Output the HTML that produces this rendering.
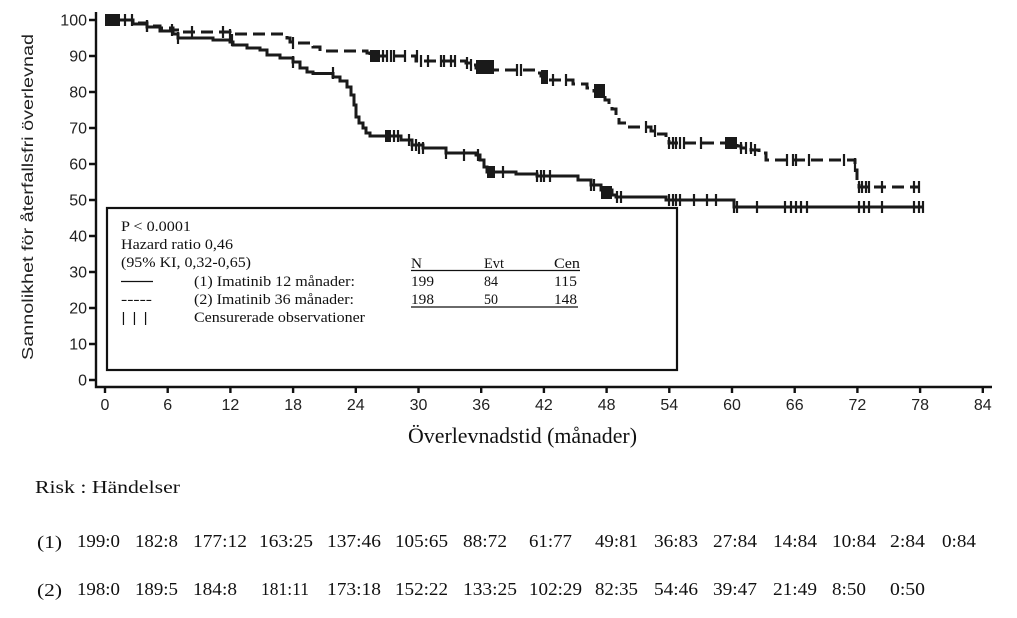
<!DOCTYPE html>
<html><head><meta charset="utf-8"><style>
html,body{margin:0;padding:0;background:#fff;}
svg{display:block;}
.ax{font-family:"Liberation Sans",Arial,sans-serif;font-size:16px;fill:#222;}
.sr{font-family:"Liberation Serif","Times New Roman",serif;fill:#111;}
</style></head><body>
<svg width="1017" height="618" viewBox="0 0 1017 618" xmlns="http://www.w3.org/2000/svg">
<rect width="1017" height="618" fill="#fff"/>
<!-- axes -->
<g stroke="#111" stroke-width="2.4" fill="none">
<path d="M96,12 V387 H992"/>
<path d="M89,20 H96 M89,56 H96 M89,92 H96 M89,128 H96 M89,164 H96 M89,200 H96 M89,236 H96 M89,272 H96 M89,308 H96 M89,344 H96 M89,380 H96"/>
<path d="M105,387 V393 M167.7,387 V393 M230.4,387 V393 M293.1,387 V393 M355.8,387 V393 M418.5,387 V393 M481.2,387 V393 M543.9,387 V393 M606.6,387 V393 M669.3,387 V393 M732,387 V393 M794.7,387 V393 M857.4,387 V393 M920.1,387 V393 M982.8,387 V393"/>
</g>
<g class="ax" text-anchor="end">
<text x="87" y="25.5">100</text><text x="87" y="61.5">90</text><text x="87" y="97.5">80</text><text x="87" y="133.5">70</text><text x="87" y="169.5">60</text><text x="87" y="205.5">50</text><text x="87" y="241.5">40</text><text x="87" y="277.5">30</text><text x="87" y="313.5">20</text><text x="87" y="349.5">10</text><text x="87" y="385.5">0</text>
</g>
<g class="ax" text-anchor="middle">
<text x="105" y="410">0</text><text x="167.7" y="410">6</text><text x="230.4" y="410">12</text><text x="293.1" y="410">18</text><text x="355.8" y="410">24</text><text x="418.5" y="410">30</text><text x="481.2" y="410">36</text><text x="543.9" y="410">42</text><text x="606.6" y="410">48</text><text x="669.3" y="410">54</text><text x="732" y="410">60</text><text x="794.7" y="410">66</text><text x="857.4" y="410">72</text><text x="920.1" y="410">78</text><text x="982.8" y="410">84</text>
</g>
<text class="ax" transform="translate(33,197) rotate(-90)" text-anchor="middle" font-size="18" textLength="326" lengthAdjust="spacingAndGlyphs">Sannolikhet för återfallsfri överlevnad</text>
<text class="sr" x="408" y="443" font-size="22" textLength="229" lengthAdjust="spacingAndGlyphs">Överlevnadstid (månader)</text>

<!-- curves -->
<g fill="none" stroke="#1a1a1a" stroke-width="3" stroke-linejoin="miter">
<path d="M105,20 H133 V24 H147 V27 H160 V31 H173 V34 H178 V38 H213 V40 H230 V42 H233 V45 H247 V48 H260 V50 H267 V55 H280 V58 H293 V62 H300 V68 H307 V72 H313 V73.5 H333 V77 H340 V81 H347 V87 H351 V95 H354 V105 H356 V117 H359 V123 H363 V128 H366 V133 H370 V136 H401 V140 H412 V145 H423 V148 H446 V153 H476 V155 H480 V160 H484 V167 H487 V172 H516 V174 H537 V176 H578 V180 H591 V185 H601 V190 H612 V195 H616 V197 H666 V200 H734 V207 H923"/>
<path stroke-dasharray="12,6" d="M105,20 H133 V23 H147 V26 H160 V28 H173 V30 H180 V32 H230 V34 H287 V38 H290 V42 H293 V43 H313 V47 H320 V51 H367 V53 H370 V56 H416 V61 H466 V63 H470 V65 H476 V68 H480 V70 H537 V73 H541 V76 H544 V80 H573 V84 H587 V88 H594 V91 H601 V96 H605 V100 H609 V104 H612 V109 H616 V117 H619 V123 H626 V127 H651 V131 H655 V134 H666 V138 H669 V143 H737 V146 H741 V148 H751 V150 H759 V153 H766 V160 H855 V170 H857 V180 H859 V187 H920"/>
</g>
<!-- censor blocks -->
<g fill="#1a1a1a">
<rect x="105" y="14" width="15" height="12"/>
<rect x="370" y="50" width="10" height="12"/>
<rect x="385" y="130" width="6" height="12"/>
<rect x="476" y="60" width="18" height="14"/>
<rect x="487" y="166" width="8" height="12"/>
<rect x="541" y="70" width="7" height="14"/>
<rect x="594" y="84" width="11" height="14"/>
<rect x="601" y="186" width="11" height="13"/>
<rect x="725" y="137" width="12" height="12"/>
</g>
<!-- censor ticks -->
<g stroke="#1a1a1a" stroke-width="2.2" fill="none">
<path d="M125,14 V26 M132,14 V26 M147,20 V32 M178,32 V44 M232,34 V46 M293,56 V68 M333,67 V79 M394,130 V142 M398,130 V142 M409,134 V146 M412,139 V151 M416,139 V151 M419,142 V154 M423,142 V154 M446,147 V159 M464,149 V161 M478,149 V161 M503,166 V178 M537,170 V182 M541,170 V182 M544,170 V182 M550,170 V182 M591,179 V191 M594,179 V191 M617,191 V203 M621,191 V203 M669,194 V206 M673,194 V206 M676,194 V206 M680,194 V206 M694,194 V206 M707,194 V206 M716,194 V206 M734,201 V213 M737,201 V213 M757,201 V213 M785,201 V213 M791,201 V213 M796,201 V213 M801,201 V213 M807,201 V213 M859,201 V213 M864,201 V213 M869,201 V213 M882,201 V213 M914,201 V213 M919,201 V213 M923,201 V213"/>
<path d="M147,20 V32 M172,24 V36 M192,26 V38 M223,26 V38 M230,29 V41 M293,37 V49 M383,50 V62 M387,50 V62 M391,50 V62 M394,50 V62 M405,50 V62 M417,50 V62 M421,55 V67 M428,55 V67 M441,55 V67 M444,55 V67 M451,55 V67 M455,55 V67 M467,57 V69 M471,59 V71 M517,64 V76 M521,64 V76 M553,74 V86 M566,74 V86 M646,121 V133 M655,125 V137 M669,137 V149 M673,137 V149 M676,137 V149 M680,137 V149 M684,137 V149 M701,137 V149 M741,142 V154 M746,142 V154 M751,142 V154 M755,144 V156 M787,154 V166 M793,154 V166 M796,154 V166 M809,154 V166 M844,154 V166 M855,158 V172 M859,181 V193 M862,181 V193 M866,181 V193 M869,181 V193 M882,181 V193 M914,181 V193 M919,181 V193"/>
</g>

<!-- legend box -->
<rect x="107" y="208" width="570" height="162" fill="#fff" stroke="#111" stroke-width="2.2"/>
<g class="sr" font-size="15">
<text x="121" y="231" textLength="70" lengthAdjust="spacingAndGlyphs">P &lt; 0.0001</text>
<text x="121" y="249" textLength="112" lengthAdjust="spacingAndGlyphs">Hazard ratio 0,46</text>
<text x="121" y="267" textLength="130" lengthAdjust="spacingAndGlyphs">(95% KI, 0,32-0,65)</text>
<text x="194" y="286" textLength="161" lengthAdjust="spacingAndGlyphs">(1) Imatinib 12 månader:</text>
<text x="194" y="304" textLength="160" lengthAdjust="spacingAndGlyphs">(2) Imatinib 36 månader:</text>
<text x="194" y="322" textLength="171" lengthAdjust="spacingAndGlyphs">Censurerade observationer</text>
<text x="121" y="304" textLength="31" lengthAdjust="spacingAndGlyphs">-----</text>
<text x="121" y="322" textLength="27" lengthAdjust="spacingAndGlyphs">|  |  |</text>
<text x="411" y="268" textLength="11" lengthAdjust="spacingAndGlyphs">N</text>
<text x="484" y="268" textLength="20" lengthAdjust="spacingAndGlyphs">Evt</text>
<text x="554" y="268" textLength="26" lengthAdjust="spacingAndGlyphs">Cen</text>
<text x="411" y="286" textLength="23" lengthAdjust="spacingAndGlyphs">199</text>
<text x="484" y="286" textLength="14" lengthAdjust="spacingAndGlyphs">84</text>
<text x="554" y="286" textLength="23" lengthAdjust="spacingAndGlyphs">115</text>
<text x="411" y="304" textLength="23" lengthAdjust="spacingAndGlyphs">198</text>
<text x="484" y="304" textLength="14" lengthAdjust="spacingAndGlyphs">50</text>
<text x="554" y="304" textLength="23" lengthAdjust="spacingAndGlyphs">148</text>
</g>
<g stroke="#111" stroke-width="1.2">
<path d="M121,281.5 H153"/>
<path d="M411,270.5 H580 M411,307 H578"/>
</g>

<!-- risk table -->
<text class="sr" x="35" y="493" font-size="18" textLength="145" lengthAdjust="spacingAndGlyphs">Risk : Händelser</text>
<g class="sr" font-size="17.5">
<text x="37" y="548" textLength="25" lengthAdjust="spacingAndGlyphs">(1)</text>
<text x="77" y="547" textLength="43" lengthAdjust="spacingAndGlyphs">199:0</text>
<text x="135" y="547" textLength="43" lengthAdjust="spacingAndGlyphs">182:8</text>
<text x="193" y="547" textLength="54" lengthAdjust="spacingAndGlyphs">177:12</text>
<text x="259" y="547" textLength="54" lengthAdjust="spacingAndGlyphs">163:25</text>
<text x="327" y="547" textLength="54" lengthAdjust="spacingAndGlyphs">137:46</text>
<text x="395" y="547" textLength="53" lengthAdjust="spacingAndGlyphs">105:65</text>
<text x="463" y="547" textLength="44" lengthAdjust="spacingAndGlyphs">88:72</text>
<text x="529" y="547" textLength="43" lengthAdjust="spacingAndGlyphs">61:77</text>
<text x="595" y="547" textLength="43" lengthAdjust="spacingAndGlyphs">49:81</text>
<text x="654" y="547" textLength="44" lengthAdjust="spacingAndGlyphs">36:83</text>
<text x="713" y="547" textLength="44" lengthAdjust="spacingAndGlyphs">27:84</text>
<text x="773" y="547" textLength="44" lengthAdjust="spacingAndGlyphs">14:84</text>
<text x="832" y="547" textLength="44" lengthAdjust="spacingAndGlyphs">10:84</text>
<text x="890" y="547" textLength="35" lengthAdjust="spacingAndGlyphs">2:84</text>
<text x="942" y="547" textLength="34" lengthAdjust="spacingAndGlyphs">0:84</text>

<text x="37" y="596" textLength="25" lengthAdjust="spacingAndGlyphs">(2)</text>
<text x="77" y="595" textLength="43" lengthAdjust="spacingAndGlyphs">198:0</text>
<text x="135" y="595" textLength="43" lengthAdjust="spacingAndGlyphs">189:5</text>
<text x="193" y="595" textLength="44" lengthAdjust="spacingAndGlyphs">184:8</text>
<text x="261" y="595" textLength="48" lengthAdjust="spacingAndGlyphs">181:11</text>
<text x="327" y="595" textLength="54" lengthAdjust="spacingAndGlyphs">173:18</text>
<text x="395" y="595" textLength="53" lengthAdjust="spacingAndGlyphs">152:22</text>
<text x="463" y="595" textLength="54" lengthAdjust="spacingAndGlyphs">133:25</text>
<text x="529" y="595" textLength="53" lengthAdjust="spacingAndGlyphs">102:29</text>
<text x="595" y="595" textLength="43" lengthAdjust="spacingAndGlyphs">82:35</text>
<text x="654" y="595" textLength="44" lengthAdjust="spacingAndGlyphs">54:46</text>
<text x="713" y="595" textLength="44" lengthAdjust="spacingAndGlyphs">39:47</text>
<text x="773" y="595" textLength="44" lengthAdjust="spacingAndGlyphs">21:49</text>
<text x="832" y="595" textLength="34" lengthAdjust="spacingAndGlyphs">8:50</text>
<text x="890" y="595" textLength="35" lengthAdjust="spacingAndGlyphs">0:50</text>
</g>
</svg>
</body></html>
